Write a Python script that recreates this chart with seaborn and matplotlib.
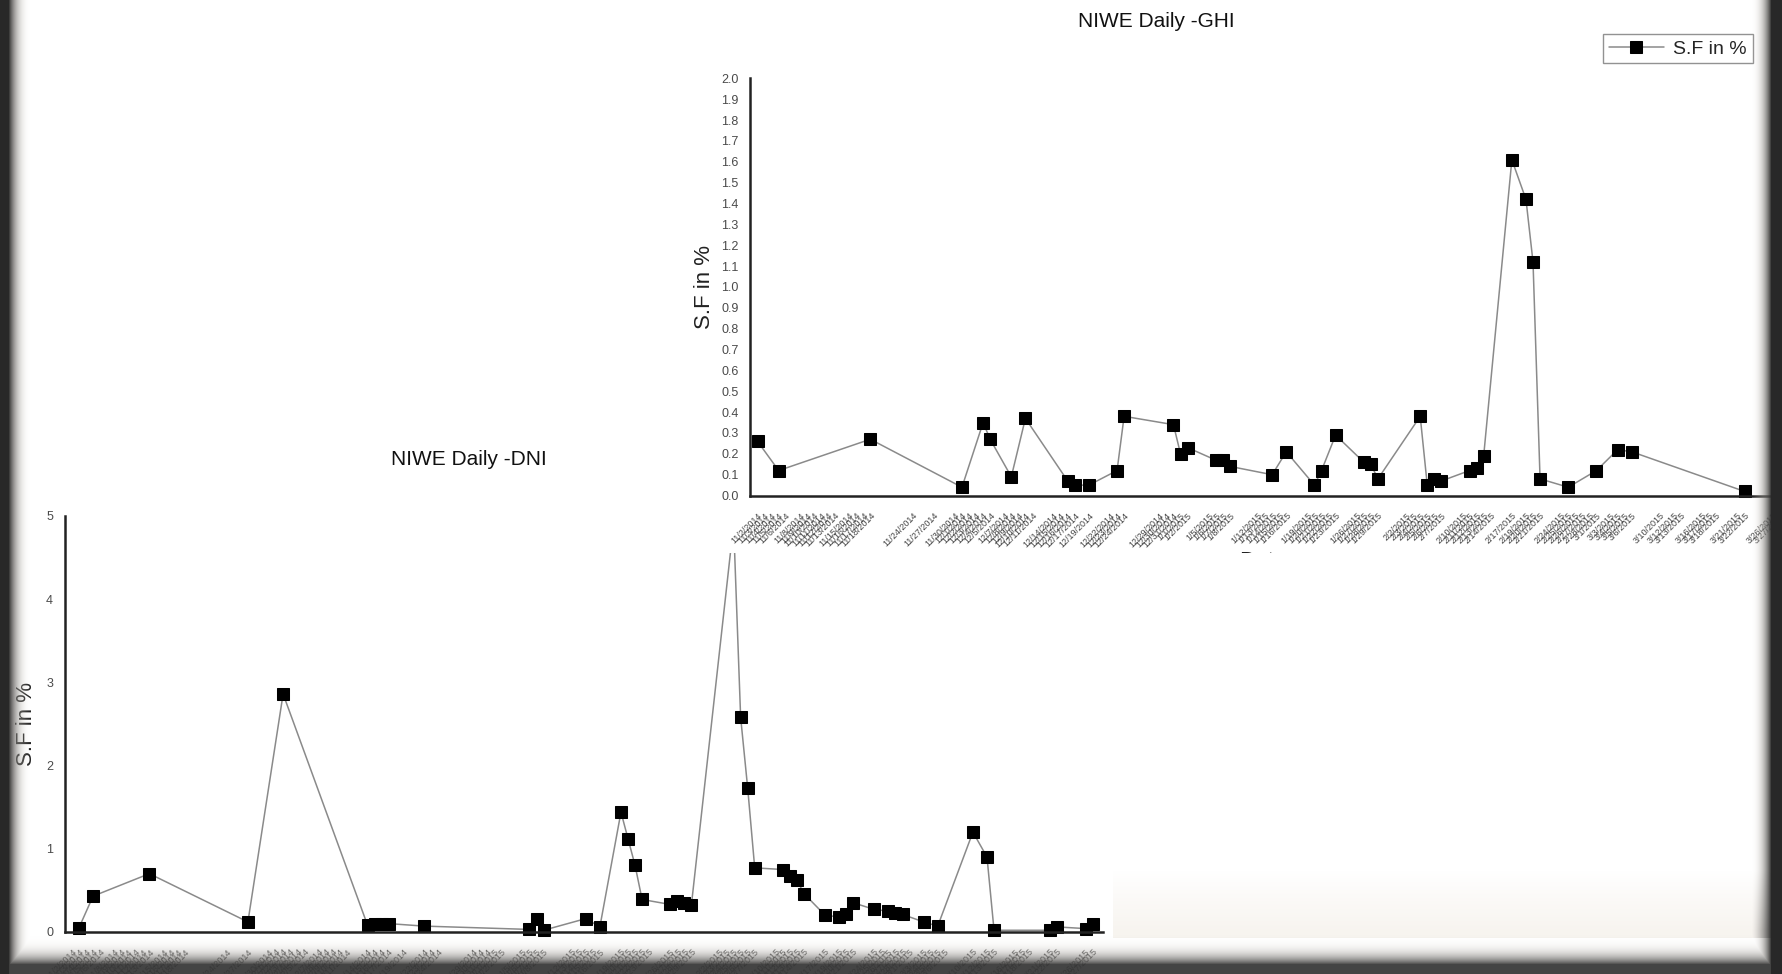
import numpy as np
import pandas as pd
import matplotlib
matplotlib.use('Agg')
import matplotlib.pyplot as plt
import seaborn as sns
from matplotlib.patches import Rectangle
from matplotlib.ticker import MultipleLocator, AutoMinorLocator, FormatStrFormatter
from matplotlib.transforms import Bbox, TransformedBbox

# ============ Dataset ============
start_date = '2014-11-01'

# GHI: day offset from start_date and S.F in %
ghi_days = [1, 4, 17, 30, 33, 34, 37, 39, 45, 46, 48, 52, 53, 60, 61, 62, 66, 67, 68,
            74, 76, 80, 81, 83, 87, 88, 89, 95, 96, 97, 98, 102, 103, 104, 108, 110,
            111, 112, 116, 120, 123, 125, 141]
ghi_sf = [0.26, 0.12, 0.27, 0.04, 0.35, 0.27, 0.09, 0.37, 0.07, 0.05, 0.05, 0.12, 0.38,
          0.34, 0.20, 0.23, 0.17, 0.17, 0.14, 0.10, 0.21, 0.05, 0.12, 0.29, 0.16, 0.15,
          0.08, 0.38, 0.05, 0.08, 0.07, 0.12, 0.13, 0.19, 1.61, 1.42, 1.12, 0.08, 0.04,
          0.12, 0.22, 0.21, 0.02]

# DNI: day offset from start_date and S.F in %
dni_days = [2, 4, 12, 26, 31, 43, 44, 45, 46, 51, 66, 67, 68, 74, 76, 79, 80, 81, 82,
            86, 87, 88, 89, 95, 96, 97, 98, 102, 103, 104, 105, 108, 110, 111, 112,
            115, 117, 118, 119, 122, 124, 129, 131, 132, 140, 141, 145, 146]
dni_sf = [0.05, 0.43, 0.70, 0.12, 2.86, 0.08, 0.09, 0.10, 0.10, 0.07, 0.03, 0.15, 0.02,
          0.16, 0.06, 1.44, 1.12, 0.80, 0.39, 0.33, 0.37, 0.35, 0.32, 4.90, 2.58, 1.73,
          0.77, 0.75, 0.67, 0.62, 0.46, 0.20, 0.18, 0.21, 0.35, 0.27, 0.25, 0.23, 0.21,
          0.12, 0.07, 1.20, 0.90, 0.02, 0.02, 0.06, 0.04, 0.09]

# date ticks shared by both charts (day offsets)
tick_days = [1, 2, 3, 4, 5, 7, 8, 9, 10, 11, 12, 14, 15, 16, 17, 23, 26, 29, 30, 31, 32,
             33, 34, 36, 37, 38, 39, 40, 43, 44, 45, 46, 48, 51, 52, 53, 58, 59, 60, 61,
             62, 65, 66, 67, 68, 72, 73, 74, 75, 76, 79, 80, 81, 82, 83, 86, 87, 88, 89,
             93, 94, 95, 96, 97, 98, 101, 102, 103, 104, 105, 108, 110, 111, 112, 115,
             116, 117, 118, 119, 120, 122, 123, 124, 125, 129, 131, 132, 135, 136, 137,
             140, 141, 145, 146, 149]

# ============ Style ============
sns.set_style('white')
plt.rcParams['font.family'] = ['Liberation Sans', 'DejaVu Sans']

base = pd.Timestamp(start_date)
tick_labels = []
for d in tick_days:
    t = base + pd.Timedelta(days=d)
    tick_labels.append(f"{t.month}/{t.day}/{t.year}")

fig = plt.figure(figsize=(17.83, 9.74), dpi=100)
fig.patch.set_facecolor('white')


def style_axes(ax, xmax, ymax, major, fmt):
    ax.yaxis.set_major_locator(MultipleLocator(major))
    ax.yaxis.set_minor_locator(AutoMinorLocator(2))
    ax.yaxis.set_major_formatter(FormatStrFormatter(fmt))
    for s in ['top', 'right']:
        ax.spines[s].set_visible(False)
    for s in ['left', 'bottom']:
        ax.spines[s].set_linewidth(1.8)
        ax.spines[s].set_color('#222222')
    ax.set_xticks(tick_days)
    ax.set_xticklabels(tick_labels, rotation=45, ha='right', va='top',
                       rotation_mode='anchor', fontsize=6.5, color='#444444')
    ax.tick_params(axis='x', direction='out', length=6, width=1.5, color='#222222', pad=5)
    ax.tick_params(axis='y', which='major', direction='out', length=5, width=1.3,
                   color='#222222', labelsize=9, labelcolor='#4a4a4a')
    ax.tick_params(axis='y', which='minor', direction='out', length=3, width=1.0,
                   color='#222222')
    ax.set_xlim(0, xmax)
    ax.set_ylim(0, ymax)
    ax.set_facecolor('none')


# ============ DNI chart (bottom left) ============
ax_d = fig.add_axes([0.0364, 0.0432, 0.5823, 0.4271], zorder=0)
sns.lineplot(x=dni_days, y=dni_sf, ax=ax_d, color='#8a8a8a', linewidth=1.1, marker='s',
             markersize=8, markerfacecolor='black', markeredgecolor='black',
             clip_on=False, errorbar=None, legend=False)
style_axes(ax_d, 147.5, 5, 1, '%d')
ax_d.set_xlabel('')
ax_d.set_ylabel('S.F in %', fontsize=16, color='#222222')
ax_d.yaxis.set_label_coords(-0.027, 0.5)
fig.text(0.2628, 0.5286, 'NIWE Daily -DNI', ha='center', va='center', fontsize=15,
         color='#111111')

# white cover of the upper screenshot
cover = Rectangle((0.357, 0.432), 0.643, 0.568, transform=fig.transFigure,
                  facecolor='white', edgecolor='none', zorder=1)
fig.add_artist(cover)

# ============ GHI chart (top right) ============
ax_g = fig.add_axes([0.4209, 0.4912, 0.5931, 0.4283], zorder=2)
sns.lineplot(x=ghi_days, y=ghi_sf, ax=ax_g, color='#8a8a8a', linewidth=1.1, marker='s',
             markersize=8, markerfacecolor='black', markeredgecolor='black',
             clip_on=False, errorbar=None, label='S.F in %')
style_axes(ax_g, 150, 2.0, 0.1, '%.1f')
ax_g.set_xlabel('')
ax_g.set_ylabel('S.F in %', fontsize=16, color='#222222')
ax_g.yaxis.set_label_coords(-0.034, 0.5)
handles, labels = ax_g.get_legend_handles_labels()
leg = ax_g.legend(handles, labels, loc='upper right', bbox_to_anchor=(0.983, 0.965),
                  bbox_transform=fig.transFigure, fontsize=14, frameon=True,
                  fancybox=False, edgecolor='#777777', borderaxespad=0,
                  handlelength=2.8, borderpad=0.3, handletextpad=0.5)
leg.get_frame().set_linewidth(1.0)
fig.text(0.6486, 0.978, 'NIWE Daily -GHI', ha='center', va='center', fontsize=15,
         color='#111111')

# x label of the upper chart, cut off by the screenshot edge
date_lbl = fig.text(0.708, 0.4345, 'Date', ha='center', va='top', fontsize=16,
                    color='#222222', zorder=3)
date_lbl.set_clip_box(TransformedBbox(Bbox([[0.357, 0.432], [1.0, 1.0]]), fig.transFigure))
date_lbl.set_clip_on(True)

# ============ Dark frame around the screenshot ============
W, H = 1783, 974
xx = np.arange(W)[None, :].astype(float)
yy = np.arange(H)[:, None].astype(float)
left = np.clip((30 - xx) / 22.0, 0, 1) ** 1.3
right = np.clip((xx - (W - 32)) / 20.0, 0, 1) ** 1.3
bottom = np.clip((yy - (H - 40)) / 30.0, 0, 1) ** 1.7 * 0.93
dark = np.clip(np.maximum(np.maximum(left, right), bottom), 0, 1)

beige = ((xx > 1112) & (yy > 870) & (yy < 938)) * np.clip((yy - 870) / 60.0, 0, 1) * 0.6

overlay = np.zeros((H, W, 4))
col = np.array([0.95, 0.93, 0.90])
overlay[..., :3] = col * (1 - dark)[..., None] + 0.16 * dark[..., None]
overlay[..., 3] = dark + beige * (1 - dark)

ax_v = fig.add_axes([0, 0, 1, 1], zorder=10)
ax_v.imshow(overlay, extent=(0, 1, 0, 1), aspect='auto', interpolation='bilinear')
ax_v.set_axis_off()

fig.savefig('out.png', dpi=100, facecolor='white')
